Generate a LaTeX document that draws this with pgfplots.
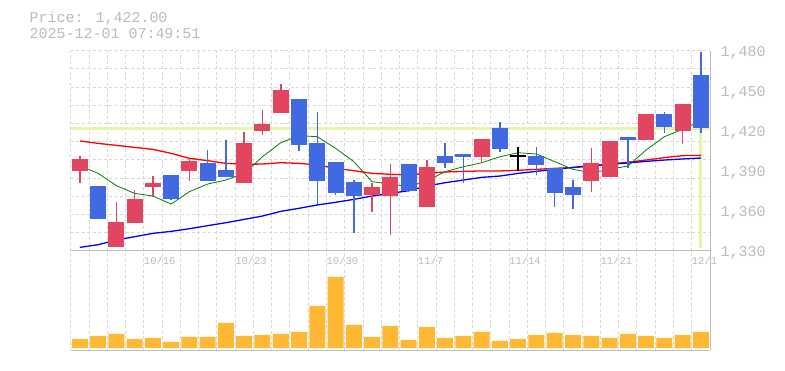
\documentclass[border=0pt]{standalone}
\usepackage{pgfplots}
\usepackage{pgfplotstable}
\pgfplotsset{compat=1.18}
\usepackage{fontspec}
\newfontfamily\mono{Liberation Mono}
\definecolor{txtgray}{RGB}{187,187,187}
\definecolor{gridgray}{RGB}{215,215,215}
\definecolor{axgray}{RGB}{190,190,190}
\definecolor{upred}{RGB}{226,69,95}
\definecolor{dnblue}{RGB}{65,105,225}
\definecolor{curyel}{RGB}{228,245,170}
\definecolor{volorg}{RGB}{255,184,51}

\pgfplotstableread{
i o h l c
0 1390 1401 1381 1399
2 1333 1366.5 1333 1351.5
3 1351 1375.5 1351 1369
4 1378 1386 1370.5 1381
6 1390 1398.5 1382.5 1397
9 1381 1419 1381 1411
10 1420 1435.5 1417 1425
11 1433.5 1455 1433.5 1450.5
16 1372 1380.5 1359 1378
17 1371 1395 1342 1385
19 1363 1398 1363 1393
22 1400.5 1414 1396 1414
28 1382.5 1407 1374 1396
29 1385.5 1412 1385.5 1412
31 1413 1432.5 1413 1432.5
33 1420 1440 1410 1440
}\upc
\pgfplotstableread{
i o h l c
1 1378.5 1378.5 1354 1354
5 1387 1387 1368 1369
7 1396 1405.5 1382.5 1382.5
8 1390.5 1413 1385 1385
12 1444 1444 1405 1409.5
13 1411 1434 1365 1382.5
14 1396.5 1396.5 1372 1373.5
15 1381.5 1383 1343.5 1371
18 1395 1395 1374 1375
20 1401 1410.5 1392 1395.5
21 1402.3 1402.3 1381 1400.5
23 1422 1426.5 1404 1406.5
25 1401 1408 1387 1394.5
26 1392 1392 1363 1373.5
27 1378 1383 1361.5 1372
30 1415 1415.5 1392 1413
32 1432.5 1434 1418.5 1422.5
34 1462 1479 1418.5 1422
}\dnc
\pgfplotstableread{
i o h l c
24 1401 1407.5 1390 1401
}\dojic
\pgfplotstableread{
i g r b
0 1393.8 1412.3 1332.5
1 1388 1410.5 1334.5
2 1378.8 1409 1338
3 1373 1407.5 1340.5
4 1371 1406 1343
5 1365 1403 1344.5
6 1374.3 1399.3 1346.5
7 1380 1397.5 1348.8
8 1383 1395.5 1351
9 1388 1394.8 1353.5
10 1400.5 1395 1356
11 1411 1396 1359.5
12 1416.3 1395.5 1361.8
13 1415.5 1394.3 1364.3
14 1406.8 1391.8 1366.3
15 1396.8 1390 1368.5
16 1381.8 1388 1371
17 1380 1387.3 1373
18 1378 1386.8 1375
19 1382.3 1388 1378.5
20 1389.3 1389 1381
21 1393 1389.5 1383
22 1396 1389.8 1385
23 1400.5 1389.8 1386
24 1403.5 1390.3 1388
25 1402.5 1391 1389.5
26 1396.8 1391.8 1391
27 1391 1392.3 1392.5
28 1388.5 1393.5 1393.8
29 1391 1395 1394.8
30 1393.5 1396.3 1395.8
31 1405.5 1398 1397
32 1415.5 1399.8 1398
33 1421 1401.3 1398.8
34 1427.3 1401.5 1399.5
}\ma
\pgfplotstableread{
i v
0 9
1 12
2 14
3 9
4 10
5 6
6 11
7 11
8 25
9 12
10 13
11 14
12 16
13 42
14 71
15 23
16 11
17 22
18 8
19 21
20 10
21 12
22 16
23 7
24 9
25 13
26 15
27 13
28 12
29 10
30 14
31 12
32 10
33 13
34 16
}\vol

\begin{document}
\begin{tikzpicture}
\useasboundingbox (0,0) rectangle (785pt,370pt);
\node[anchor=base west, inner sep=0pt, text=txtgray, font=\mono\fontsize{15}{15}\selectfont] at (29.3pt,347.3pt) {Price: 1,422.00};
\node[anchor=base west, inner sep=0pt, text=txtgray, font=\mono\fontsize{15}{15}\selectfont] at (29.3pt,331.7pt) {2025-12-01 07:49:51};

% volume panel
\begin{axis}[
  at={(70.7pt,20pt)}, anchor=south west,
  scale only axis, width=639.3pt, height=100pt,
  xmin=-0.5, xmax=34.5, ymin=-2, ymax=98,
  axis x line*=bottom, axis y line*=right,
  axis line style={axgray, line width=1pt, -},
  xtick={-0.5,0.5,...,34.5}, xticklabels={},
  ytick=\empty,
  major tick length=0pt,
  xmajorgrids=true,
  grid style={gridgray, line width=0.9pt, dash pattern=on 3pt off 2.5pt},
]
\addplot[ybar, bar width=16pt, fill=volorg, draw=none, bar shift=0pt] table[x=i,y=v]{\vol};
\end{axis}

% price panel
\begin{axis}[
  at={(70.7pt,119.3pt)}, anchor=south west,
  scale only axis, width=639.3pt, height=200pt,
  xmin=-0.5, xmax=34.5, ymin=1330, ymax=1480,
  axis x line*=bottom, axis y line*=right,
  axis line style={axgray, line width=1pt, -},
  xtick={-0.5,0.5,...,34.5},
  xticklabels={,,,,10/16,,,,,10/23,,,,,10/30,,,,,11/7,,,,,11/14,,,,,11/21,,,,,12/1,},
  xticklabel style={anchor=north west, inner sep=0pt, yshift=-6pt, text=txtgray, font=\mono\fontsize{10.5}{10.5}\selectfont},
  ytick={1330,1360,...,1480},
  /pgf/number format/assume math mode=true,
  /pgf/number format/1000 sep={,},
  yticklabel style={anchor=west, inner sep=0pt, xshift=10.5pt, yshift=-2pt, text=txtgray, font=\mono\fontsize{15}{15}\selectfont},
  major tick length=0pt,
  xmajorgrids=true, ymajorgrids=false,
  extra y ticks={1343.636,1357.273,1370.909,1384.545,1398.182,1411.818,1425.455,1439.091,1452.727,1466.364,1480},
  extra y tick labels={},
  extra y tick style={grid=major},
  grid style={gridgray, line width=0.9pt, dash pattern=on 3pt off 2.5pt},
  clip=false,
  wick/.style={no markers, draw=none, error bars/.cd, y dir=plus, y explicit, error mark=none, error bar style={draw=#1, solid, line width=1.5pt}},
  body/.style={no markers, draw=none, error bars/.cd, y dir=both, y explicit, error mark=none, error bar style={draw=#1, solid, line width=16pt}},
]
\addplot[curyel, line width=3pt] coordinates {(-0.5,1422) (34.5,1422)};
\addplot[curyel, line width=3pt] coordinates {(34,1422) (34,1332)};
\addplot[red, line width=1.3pt] table[x=i,y=r]{\ma};
\addplot[blue, line width=1.3pt] table[x=i,y=b]{\ma};
\addplot[green!50!black, line width=0.8pt] table[x=i,y=g]{\ma};
% wicks
\addplot[wick=upred] table[x=i, y=l, y error plus expr=\thisrow{h}-\thisrow{l}]{\upc};
\addplot[wick=dnblue] table[x=i, y=l, y error plus expr=\thisrow{h}-\thisrow{l}]{\dnc};
\addplot[wick=black] table[x=i, y=l, y error plus expr=\thisrow{h}-\thisrow{l}]{\dojic};
% bodies
\addplot[body=upred] table[x=i, y expr=(\thisrow{o}+\thisrow{c})/2, y error expr=abs(\thisrow{c}-\thisrow{o})/2]{\upc};
\addplot[body=dnblue] table[x=i, y expr=(\thisrow{o}+\thisrow{c})/2, y error expr=abs(\thisrow{c}-\thisrow{o})/2]{\dnc};
\addplot[no markers, draw=none, error bars/.cd, x dir=both, x fixed=0.44, error mark=none, error bar style={draw=black, solid, line width=1.2pt}]
  table[x=i, y=o]{\dojic};
\end{axis}
\end{tikzpicture}
\end{document}
